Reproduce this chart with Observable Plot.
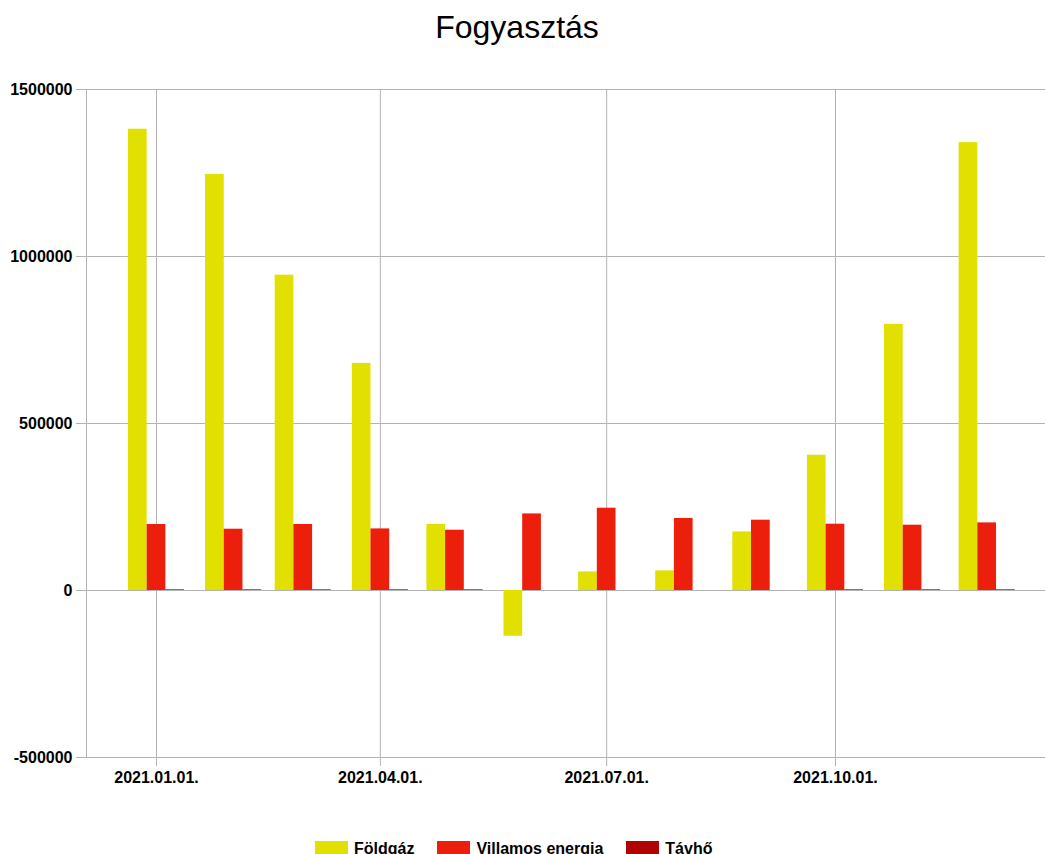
<!DOCTYPE html>
<html>
<head>
<meta charset="utf-8">
<script src="https://cdn.jsdelivr.net/npm/d3@7"></script>
<script src="https://cdn.jsdelivr.net/npm/@observablehq/plot@0.6"></script>
<style>
  html, body { margin: 0; padding: 0; background: #fff; overflow: hidden; }
  body { width: 1046px; height: 854px; position: relative; font-family: "Liberation Sans", Arial, sans-serif; }
  #title { position: absolute; top: 11px; left: 0; width: 1034px; text-align: center; font-size: 32px; line-height: 32px; color: #000; }
  #chart { position: absolute; top: 60px; left: 0; }
  #legend { position: absolute; top: 841px; left: 315px; display: flex; gap: 23px; font-size: 16px; line-height: 16px; font-weight: bold; color: #000; }
  .item { display: flex; align-items: flex-start; }
  .sw { width: 33px; height: 14px; margin-right: 6px; }
</style>
</head>
<body>
<div id="title">Fogyasztás</div>
<div id="chart"></div>
<div id="legend"></div>
<script>
// ---- data ----
const months = ["2021-01-01","2021-02-01","2021-03-01","2021-04-01","2021-05-01","2021-06-01",
                "2021-07-01","2021-08-01","2021-09-01","2021-10-01","2021-11-01","2021-12-01"];
const seriesNames = ["Földgáz", "Villamos energia", "Távhő"];
const foldgaz = [1381000, 1246000, 944000, 680000, 198000, -137000, 55700, 58700, 175400, 405000, 797000, 1341000];
const villamos = [197600, 183500, 197600, 184400, 180500, 229300, 246400, 215600, 210500, 198500, 195500, 202400];
const tavho = [2000, 2000, 2000, 2000, 2000, 0, 0, 0, 0, 2000, 2000, 2000];
const yTicks = [-500000, 0, 500000, 1000000, 1500000];
const xTickLabels = ["2021-01-01", "2021-04-01", "2021-07-01", "2021-10-01"];
const colors = ["#e2e000", "#ec1f0c", "#b00404"];

// ---- build ----
const parse = d3.utcParse("%Y-%m-%d");
const DAY = 864e5;
const BAR_DAYS = 7.52;
const seriesValues = [foldgaz, villamos, tavho];
const rows = months.flatMap((m, i) => seriesNames.map((name, k) => ({
  date: parse(m), k, name, value: seriesValues[k][i]
})));
const jan1 = parse(months[0]);
const xDomain = [new Date(+jan1 - 28.15 * DAY), new Date(+jan1 + 357.45 * DAY)];
const xTicks = xTickLabels.map(parse);
const grid = "#b3b3b3";

const chart = Plot.plot({
  width: 1046,
  height: 760,
  marginLeft: 86,
  marginRight: 1,
  marginTop: 29,
  marginBottom: 63,
  style: { fontFamily: "'Liberation Sans', Arial, sans-serif", background: "#fff", color: "#000" },
  x: { type: "utc", domain: xDomain, label: null },
  y: { domain: [-500000, 1500000], label: null },
  color: { domain: seriesNames, range: colors },
  marks: [
    Plot.ruleY(yTicks, { stroke: grid, strokeWidth: 1 }),
    Plot.ruleX(xTicks, { stroke: grid, strokeWidth: 1 }),
    Plot.ruleX([xDomain[0]], { stroke: grid, strokeWidth: 1 }),
    Plot.rect(rows, {
      x1: d => new Date(+d.date + (d.k - 1.5) * BAR_DAYS * DAY),
      x2: d => new Date(+d.date + (d.k - 0.5) * BAR_DAYS * DAY),
      y1: 0,
      y2: "value",
      fill: "name"
    }),
    Plot.axisY(yTicks, {
      tickSize: 10, tickPadding: 4, stroke: grid, fill: "#000", label: null,
      tickFormat: d => String(d), fontSize: 16, fontWeight: "bold"
    }),
    Plot.axisX(xTicks, {
      tickSize: 9, tickPadding: 5, stroke: grid, fill: "#000", label: null,
      tickFormat: d3.utcFormat("%Y.%m.%d."), fontSize: 16, fontWeight: "bold"
    })
  ]
});
document.getElementById("chart").appendChild(chart);

const legend = document.getElementById("legend");
seriesNames.forEach((name, i) => {
  const item = document.createElement("div");
  item.className = "item";
  const sw = document.createElement("div");
  sw.className = "sw";
  sw.style.background = colors[i];
  const t = document.createElement("span");
  t.textContent = name;
  item.appendChild(sw);
  item.appendChild(t);
  legend.appendChild(item);
});
</script>
</body>
</html>
